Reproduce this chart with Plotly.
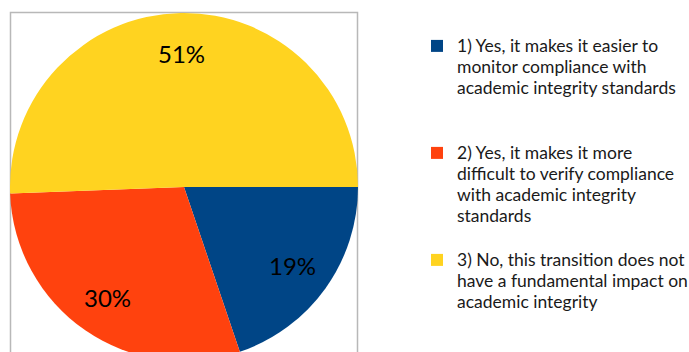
import math
import plotly.graph_objects as go

legend_lines = [
    ["1) Yes, it makes it easier to", "monitor compliance with", "academic integrity standards"],
    ["2) Yes, it makes it more", "difficult to verify compliance", "with academic integrity", "standards"],
    ["3) No, this transition does not", "have a fundamental impact on", "academic integrity"],
]
values = [19.8, 29.6, 50.6]          # slice sizes
pct_labels = ["19%", "30%", "51%"]   # labels as printed on the chart
colors = ["#004586", "#FF420E", "#FFD320"]

W, H = 689, 370
PIE_X0, PIE_X1 = 10, 358       # pie box in px
PIE_TOP, PIE_BOT = 13, 361

def legend_label(lines, total=5):
    parts = ['<span style="font-size:17.5px">%s</span>' % l for l in lines]
    parts += ["\u00a0"] * (total - len(lines))
    return "<br>".join(parts)

labels = [legend_label(l) for l in legend_lines]

fig = go.Figure(go.Pie(
    labels=labels,
    values=values,
    sort=False,
    direction="clockwise",
    rotation=90,
    marker=dict(colors=colors, line=dict(width=0)),
    textinfo="none",
    domain=dict(x=[PIE_X0 / W, PIE_X1 / W], y=[1 - PIE_BOT / H, 1 - PIE_TOP / H]),
    hoverinfo="skip",
))

# percentage labels placed along each slice's bisector
cx = (PIE_X0 + PIE_X1) / 2
cy = (PIE_TOP + PIE_BOT) / 2
R = (PIE_X1 - PIE_X0) / 2
k = 0.77
total = sum(values)
start = 0.0
annotations = []
for v, t in zip(values, pct_labels):
    mid = (start + v / 2) / total * 2 * math.pi
    start += v
    px = cx + k * R * math.cos(mid)
    py = cy + k * R * math.sin(mid)
    annotations.append(dict(
        x=px / W, y=1 - py / H, xref="paper", yref="paper",
        xanchor="center", yanchor="middle",
        text=t, showarrow=False,
        font=dict(family="Lato", size=24, color="#000000"),
    ))

fig.update_layout(
    width=W, height=H,
    margin=dict(l=0, r=0, t=0, b=0, autoexpand=False),
    paper_bgcolor="white",
    showlegend=True,
    legend=dict(
        x=417 / W, y=1 - 29 / H, xanchor="left", yanchor="top",
        valign="top",
        font=dict(family="Lato", size=16, color="#1a1a1a"),
        bgcolor="rgba(0,0,0,0)", borderwidth=0,
    ),
    annotations=annotations,
    shapes=[dict(
        type="rect", xref="paper", yref="paper",
        x0=10.5 / W, x1=357.5 / W, y0=-0.2, y1=1 - 12.5 / H,
        line=dict(color="#B8B8B8", width=1.5), layer="below",
    )],
)

fig.write_html(
    "out.html",
    config={"displayModeBar": False},
    post_script="document.body.style.margin='0';document.body.style.overflow='hidden';document.documentElement.style.overflow='hidden';",
)
